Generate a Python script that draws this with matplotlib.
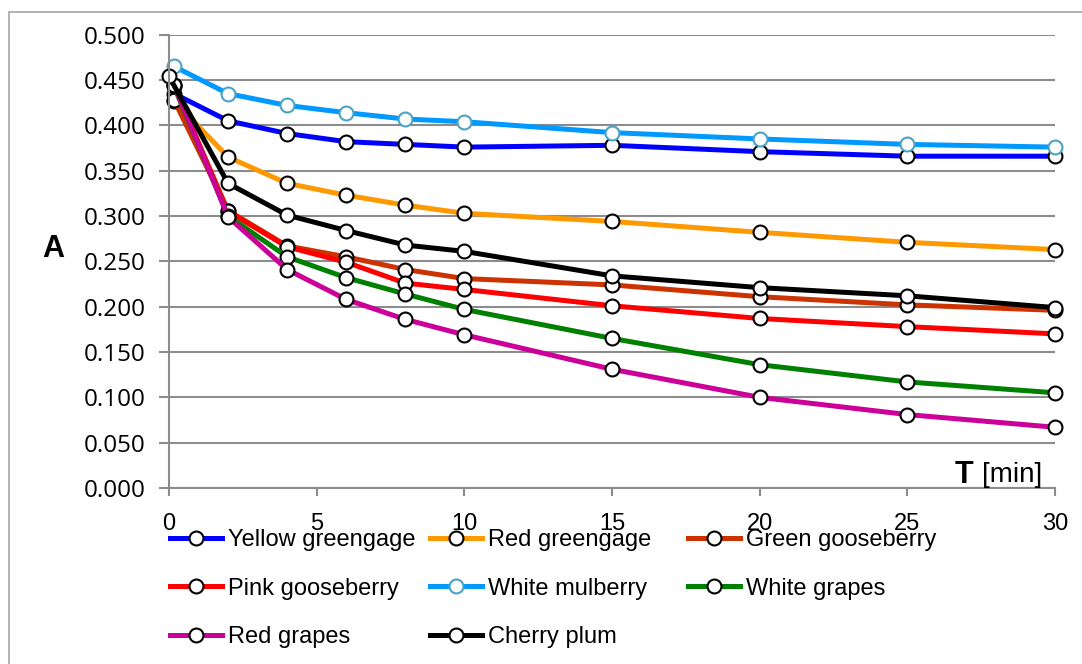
import numpy as np
import matplotlib
matplotlib.use("Agg")
import matplotlib.pyplot as plt
from matplotlib.patches import Rectangle

# time points [min]; the first reading of most samples is at ~10 s
t_first = [0.17, 2, 4, 6, 8, 10, 15, 20, 25, 30]
t_plum = [0, 2, 4, 6, 8, 10, 15, 20, 25, 30]

yellow_greengage = [0.435, 0.405, 0.391, 0.382, 0.379, 0.376, 0.378, 0.371, 0.366, 0.366]
red_greengage = [0.427, 0.365, 0.336, 0.323, 0.312, 0.303, 0.294, 0.282, 0.271, 0.263]
green_gooseberry = [0.428, 0.306, 0.267, 0.255, 0.241, 0.231, 0.224, 0.211, 0.202, 0.196]
pink_gooseberry = [0.444, 0.305, 0.266, 0.249, 0.226, 0.219, 0.201, 0.187, 0.178, 0.170]
white_mulberry = [0.465, 0.435, 0.422, 0.414, 0.407, 0.404, 0.392, 0.385, 0.379, 0.376]
white_grapes = [0.443, 0.300, 0.255, 0.232, 0.214, 0.197, 0.165, 0.136, 0.117, 0.105]
red_grapes = [0.445, 0.299, 0.241, 0.208, 0.186, 0.169, 0.131, 0.100, 0.081, 0.067]
cherry_plum = [0.454, 0.336, 0.301, 0.284, 0.268, 0.261, 0.234, 0.221, 0.212, 0.199]

names = ["Yellow greengage", "Red greengage", "Green gooseberry", "Pink gooseberry",
         "White mulberry", "White grapes", "Red grapes", "Cherry plum"]
series = [yellow_greengage, red_greengage, green_gooseberry, pink_gooseberry,
          white_mulberry, white_grapes, red_grapes, cherry_plum]
times = [t_first] * 7 + [t_plum]
colors = ["#0000FF", "#FF9900", "#CC3300", "#FF0000",
          "#0099FF", "#008000", "#CC0099", "#000000"]
edges = ["black", "black", "black", "black", "#4BA3C3", "black", "black", "black"]

y_ticks = np.arange(0, 0.501, 0.05)
x_ticks = [0, 5, 10, 15, 20, 25, 30]

W, H = 1082, 664
narrow = ["Liberation Sans Narrow", "Liberation Sans"]
fig = plt.figure(figsize=(W / 100, H / 100), dpi=100)
ax = fig.add_axes([169 / W, 1 - 488 / H, (1055 - 169) / W, (488 - 34.7) / H])

handles = []
for name, y, t, c, e in zip(names, series, times, colors, edges):
    h, = ax.plot(t, y, color=c, lw=3.6, marker="o", ms=10, mfc="white",
                 mec=e, mew=1.5, label=name, solid_joinstyle="round", clip_on=False)
    handles.append(h)

ax.set_xlim(0, 30)
ax.set_ylim(0, 0.5)
ax.set_yticks(y_ticks)
ax.set_yticklabels([f"{v:.3f}" for v in y_ticks])
ax.set_xticks(x_ticks)
ax.yaxis.grid(True, color="#8C8C8C", lw=1.5)
ax.set_axisbelow(True)
for s in ["top", "right"]:
    ax.spines[s].set_visible(False)
for s in ["left", "bottom"]:
    ax.spines[s].set_color("#8C8C8C")
    ax.spines[s].set_linewidth(1.5)
ax.tick_params(axis="y", length=7, width=1.5, color="#8C8C8C", pad=10,
               labelsize=17.5, labelcolor="black")
ax.tick_params(axis="x", length=6, width=1.5, color="#8C8C8C", pad=12,
               labelsize=17, labelcolor="black")
for lab in ax.get_xticklabels():
    lab.set_family(narrow)
for lab in ax.get_yticklabels():
    lab.set_family(["Open Sans", "DejaVu Sans"])

# legend: three columns, filled row by row like the original
col_x = [169, 429, 687]
for k, cx in enumerate(col_x):
    idx = [i for i in range(k, len(names), 3)]
    fig.legend([handles[i] for i in idx], [names[i] for i in idx],
               loc="upper left", bbox_to_anchor=((cx - 20) / W, 1 - 508 / H),
               frameon=False, handlelength=2.2, handletextpad=0.25,
               labelspacing=1.12, borderpad=0.4,
               prop={"family": narrow, "size": 17})

fig.text(53 / W, 1 - 249 / H, "A", fontsize=22, fontweight="bold",
         ha="center", va="center", family="Liberation Sans")
fig.text(955 / W, 1 - 483 / H, "T", fontsize=22, fontweight="bold",
         ha="left", va="baseline", family="Liberation Sans")
fig.text(982 / W, 1 - 482 / H, "[min]", fontsize=20, ha="left", va="baseline",
         family=narrow)

fig.patches.append(Rectangle((9 / W, -0.2), 1.2, 1.2 - 11.7 / H,
                             transform=fig.transFigure, fill=False,
                             edgecolor="#A6A6A6", lw=1.2))

fig.savefig("out.png", dpi=100)
